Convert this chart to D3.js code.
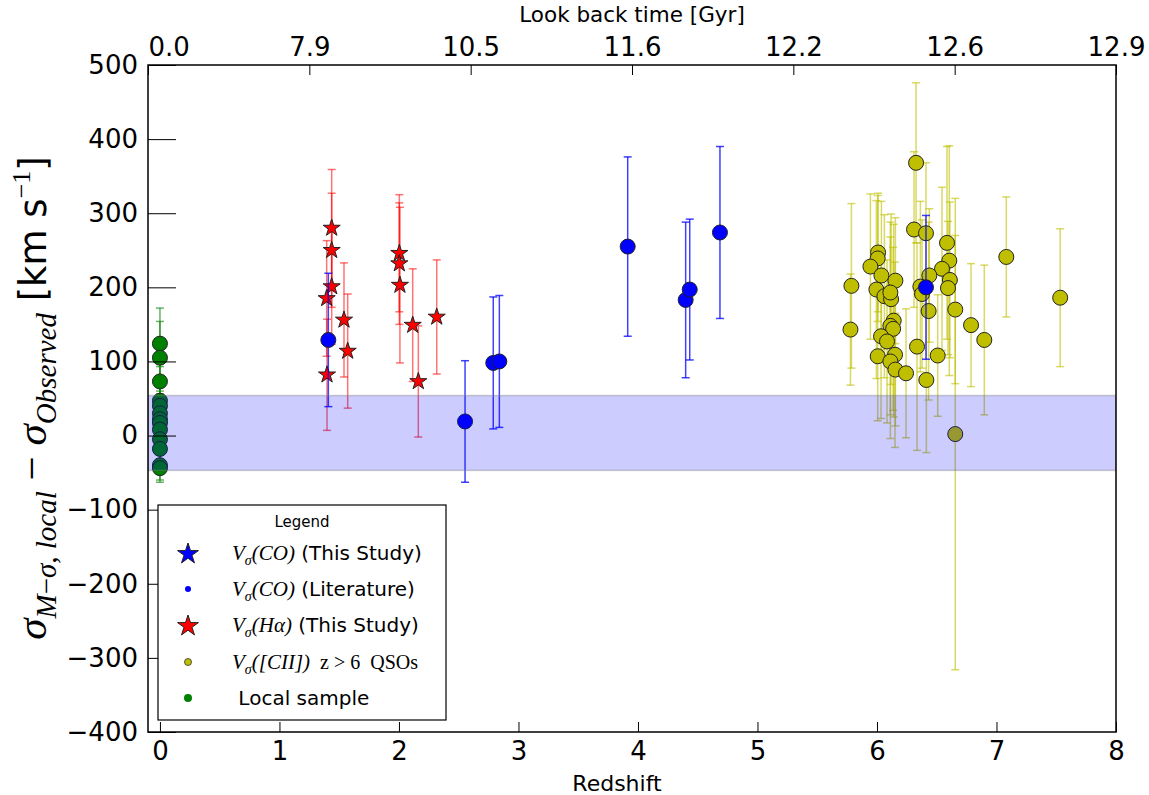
<!DOCTYPE html>
<html>
<head>
<meta charset="utf-8">
<script src="https://cdn.jsdelivr.net/npm/d3@7"></script>
<style>
  body { margin: 0; background: #fff; }
  svg { display: block; }
</style>
</head>
<body>
<svg id="chart" width="1149" height="795"></svg>
<script>
// ---- tick values / labels ----
const redshiftTicks = [0, 1, 2, 3, 4, 5, 6, 7, 8];
const offsetTicks = [500, 400, 300, 200, 100, 0, -100, -200, -300, -400];
const lookbackLabels = ["0.0", "7.9", "10.5", "11.6", "12.2", "12.6", "12.9"];

// ---- local sample (z = 0) ----
const localZ = [0, 0, 0, 0, 0, 0, 0, 0, 0, 0, 0, 0, 0];
const localV = [124, 105, 73, 47, 40, 30, 22, 17, 8, -5, -18, -40, -44];
const localErr = [48, 49, 20, 20, 20, 20, 20, 20, 20, 20, 20, 20, 19];

// ---- H-alpha, this study ----
const haZ = [1.437, 1.437, 1.437, 1.395, 1.398, 1.540, 1.571, 2.003, 2.003, 2.008, 2.115, 2.162, 2.316];
const haV = [280, 250, 201, 185, 82, 156, 114, 246, 232, 203, 149, 73, 160];
const haErr = [79, 77, 78, 78, 75, 77, 77, 79, 82, 105, 76, 75, 77];

// ---- CO, literature ----
const coZ = [1.409, 2.553, 2.789, 2.840, 3.914, 4.399, 4.433, 4.686, 6.410];
const coV = [129, 19, 98, 100, 255, 183, 197, 274, 200];
const coErr = [90, 82, 89, 89, 121, 105, 95, 116, 97];

// ---- [CII] z > 6 QSOs ----
const qsoZ = [6.327, 6.310, 6.410, 6.586, 6.009, 6.006, 5.945, 6.605, 7.082, 6.544,
              6.037, 6.154, 6.610, 5.786, 6.438, 6.363, 6.594, 5.995, 6.377, 6.062,
              6.118, 6.112, 7.533, 6.432, 6.655, 6.787, 5.778, 6.140, 6.112, 6.135,
              6.034, 6.084, 6.898, 6.335, 6.006, 6.151, 6.508, 6.112, 6.154, 6.243,
              6.413, 6.655];
const qsoV = [368, 278, 273, 260, 247, 239, 228, 236, 241, 225,
              216, 209, 210, 202, 216, 201, 199, 197, 191, 188,
              184, 193, 186, 168, 170, 149, 143, 155, 148, 144,
              134, 127, 129, 120, 107, 109, 108, 100, 89, 84,
              75, 2];
const qsoErr = [108, 105, 95, 130, 80, 85, 98, 155, 81, 110,
                100, 85, 105, 111, 90, 115, 90, 120, 100, 110,
                115, 95, 93, 120, 100, 83, 75, 130, 120, 110,
                111, 110, 101, 140, 87, 125, 82, 104, 76, 87,
                98, 318];

// ---- shaded band of the local relation ----
const bandRange = [-47, 54];

// ---- geometry ----
const svg = d3.select("#chart");
const plot = { left: 148, right: 1116, top: 65, bottom: 732 };

const x = d3.scaleLinear().domain([-0.1, 8]).range([plot.left, plot.right]);
const y = d3.scaleLinear().domain([-400, 500]).range([plot.bottom, plot.top]);
const xTop = d3.scaleLinear().domain([0, lookbackLabels.length - 1]).range([plot.left, plot.right]);

const sans = "'DejaVu Sans', sans-serif";
const serif = "'Liberation Serif', 'DejaVu Serif', serif";

// clip for the data area
svg.append("defs").append("clipPath").attr("id", "clip")
  .append("rect")
  .attr("x", plot.left).attr("y", plot.top)
  .attr("width", plot.right - plot.left).attr("height", plot.bottom - plot.top);

// five-pointed star path (matplotlib-like proportions)
function starPath(R) {
  const r = R * 0.382;
  const pts = [];
  for (let i = 0; i < 10; i++) {
    const rad = i % 2 === 0 ? R : r;
    const a = -Math.PI / 2 + i * Math.PI / 5;
    pts.push([rad * Math.cos(a), rad * Math.sin(a)]);
  }
  return "M" + pts.map(p => p[0].toFixed(2) + "," + p[1].toFixed(2)).join("L") + "Z";
}

const dataLayer = svg.append("g").attr("clip-path", "url(#clip)");

function drawSeries(zs, vs, es, opt) {
  const rows = zs.map((z, i) => ({ z, v: vs[i], e: es[i] }));
  const g = dataLayer.append("g");
  const bars = g.append("g")
    .attr("stroke", opt.barColor)
    .attr("stroke-opacity", opt.barOpacity)
    .attr("stroke-width", 1.5)
    .attr("fill", "none");
  rows.forEach(d => {
    const cx = x(d.z);
    const y1 = y(d.v + d.e), y2 = y(d.v - d.e);
    bars.append("line").attr("x1", cx).attr("x2", cx).attr("y1", y1).attr("y2", y2);
    bars.append("line").attr("x1", cx - opt.cap).attr("x2", cx + opt.cap).attr("y1", y1).attr("y2", y1);
    bars.append("line").attr("x1", cx - opt.cap).attr("x2", cx + opt.cap).attr("y1", y2).attr("y2", y2);
  });
  const marks = g.append("g");
  if (opt.shape === "star") {
    marks.selectAll("path").data(rows).join("path")
      .attr("d", starPath(opt.size))
      .attr("transform", d => `translate(${x(d.z)},${y(d.v)})`)
      .attr("fill", opt.fill)
      .attr("stroke", "#222")
      .attr("stroke-width", 1);
  } else {
    marks.selectAll("circle").data(rows).join("circle")
      .attr("cx", d => x(d.z)).attr("cy", d => y(d.v))
      .attr("r", opt.size)
      .attr("fill", opt.fill)
      .attr("stroke", "#222")
      .attr("stroke-width", 1);
  }
}

drawSeries(qsoZ, qsoV, qsoErr, { barColor: "#bfbf00", barOpacity: 0.6, cap: 4, shape: "circle", size: 7.5, fill: "#bfbf00" });
drawSeries(haZ, haV, haErr, { barColor: "#ff0000", barOpacity: 0.55, cap: 4, shape: "star", size: 9, fill: "#ff0000" });
drawSeries(localZ, localV, localErr, { barColor: "#008000", barOpacity: 0.6, cap: 4, shape: "circle", size: 7.5, fill: "#008000" });
drawSeries(coZ, coV, coErr, { barColor: "#0000ff", barOpacity: 0.75, cap: 4, shape: "circle", size: 7.5, fill: "#0000ff" });

// translucent band over the points
dataLayer.append("rect")
  .attr("x", plot.left)
  .attr("width", plot.right - plot.left)
  .attr("y", y(bandRange[1]))
  .attr("height", y(bandRange[0]) - y(bandRange[1]))
  .attr("fill", "#0000ff")
  .attr("fill-opacity", 0.2)
  .attr("stroke", "#808080")
  .attr("stroke-opacity", 0.4)
  .attr("stroke-width", 1.5);

// ---- axes ----
const axB = svg.append("g").attr("transform", `translate(0,${plot.bottom})`)
  .call(d3.axisBottom(x).tickValues(redshiftTicks).tickSize(-10).tickPadding(10).tickFormat(d3.format("d")));
const axL = svg.append("g").attr("transform", `translate(${plot.left},0)`)
  .call(d3.axisLeft(y).tickValues(offsetTicks).tickSize(-28).tickPadding(38).tickFormat(d3.format("d")));
const axT = svg.append("g").attr("transform", `translate(0,${plot.top})`)
  .call(d3.axisTop(xTop).tickValues(d3.range(lookbackLabels.length)).tickSize(-10).tickPadding(9)
    .tickFormat(i => lookbackLabels[i]));

[axB, axL, axT].forEach(a => {
  a.select(".domain").remove();
  a.selectAll(".tick line").attr("stroke", "#000").attr("stroke-width", 1);
  a.selectAll(".tick text").attr("fill", "#000").attr("font-family", sans).attr("font-size", 26);
});
axL.selectAll(".tick text").attr("text-anchor", "end").attr("dx", "28px");
axT.selectAll(".tick").filter(i => i === 0).select("text").attr("text-anchor", "start");

// frame
svg.append("rect")
  .attr("x", plot.left).attr("y", plot.top)
  .attr("width", plot.right - plot.left).attr("height", plot.bottom - plot.top)
  .attr("fill", "none").attr("stroke", "#000").attr("stroke-width", 1.5);

// axis titles
svg.append("text")
  .attr("x", (plot.left + plot.right) / 2).attr("y", 22)
  .attr("text-anchor", "middle")
  .attr("font-family", sans).attr("font-size", 21.5)
  .text("Look back time [Gyr]");

svg.append("text")
  .attr("x", 617).attr("y", 791)
  .attr("text-anchor", "middle")
  .attr("font-family", sans).attr("font-size", 22)
  .text("Redshift");

// vertical title with sub/superscripts
const yTitle = svg.append("text")
  .attr("transform", "translate(46,398) rotate(-90)")
  .attr("text-anchor", "middle")
  .attr("fill", "#000");
function part(sel, txt, o) {
  const t = sel.append("tspan").text(txt)
    .attr("font-family", o.family || serif)
    .attr("font-size", o.size)
    .attr("font-style", o.italic ? "italic" : "normal");
  if (o.dy) t.attr("dy", o.dy);
  return t;
}
part(yTitle, "σ", { size: 43, italic: true });
part(yTitle, "M", { size: 29, italic: true, dy: 10 });
part(yTitle, "−", { size: 29 });
part(yTitle, "σ, local", { size: 29, italic: true });
part(yTitle, " − ", { size: 43, dy: -10 });
part(yTitle, "σ", { size: 43, italic: true });
part(yTitle, "Observed", { size: 29, italic: true, dy: 10 });
part(yTitle, " [km s", { size: 37, family: sans, dy: -10 });
part(yTitle, "−1", { size: 26, dy: -16 });
part(yTitle, "]", { size: 37, family: sans, dy: 16 });

// ---- legend ----
const legendItems = [
  { shape: "star", color: "#0000ff", R: 11, parts: [["V", 21, true, 0], ["σ", 14, true, 5], ["(CO)", 21, true, -5], [" (This Study)", 20, false, 0, sans]] },
  { shape: "dot", color: "#0000ff", R: 3, edge: "none", parts: [["V", 21, true, 0], ["σ", 14, true, 5], ["(CO)", 21, true, -5], [" (Literature)", 20, false, 0, sans]] },
  { shape: "star", color: "#ff0000", R: 11, parts: [["V", 21, true, 0], ["σ", 14, true, 5], ["(Hα)", 21, true, -5], [" (This Study)", 20, false, 0, sans]] },
  { shape: "dot", color: "#bfbf00", R: 3.5, edge: "#333", parts: [["V", 21, true, 0], ["σ", 14, true, 5], ["([CII])", 21, true, -5], ["  z > 6  QSOs", 20, false, 0]] },
  { shape: "dot", color: "#008000", R: 4, edge: "none", parts: [[" Local sample", 20, false, 0, sans]] }
];

const lg = svg.append("g");
lg.append("rect").attr("x", 158).attr("y", 505).attr("width", 288).attr("height", 215)
  .attr("fill", "#fff").attr("stroke", "#000").attr("stroke-width", 1.2);
lg.append("text").attr("x", 302).attr("y", 527).attr("text-anchor", "middle")
  .attr("font-family", sans).attr("font-size", 15).text("Legend");

const rowY = [553, 589, 625, 662, 698];
legendItems.forEach((it, i) => {
  const cy = rowY[i];
  if (it.shape === "star") {
    lg.append("path").attr("d", starPath(it.R)).attr("transform", `translate(188,${cy + 1})`)
      .attr("fill", it.color).attr("stroke", "#222").attr("stroke-width", 1);
  } else {
    lg.append("circle").attr("cx", 188).attr("cy", cy).attr("r", it.R)
      .attr("fill", it.color).attr("stroke", it.edge).attr("stroke-width", 0.8);
  }
  const t = lg.append("text").attr("x", 232).attr("y", cy + 7).attr("fill", "#000");
  it.parts.forEach(p => {
    const s = t.append("tspan").text(p[0])
      .attr("font-family", p[4] || serif)
      .attr("font-size", p[1])
      .attr("font-style", p[2] ? "italic" : "normal")
      .style("white-space", "pre");
    if (p[3]) s.attr("dy", p[3]);
  });
});
</script>
</body>
</html>
